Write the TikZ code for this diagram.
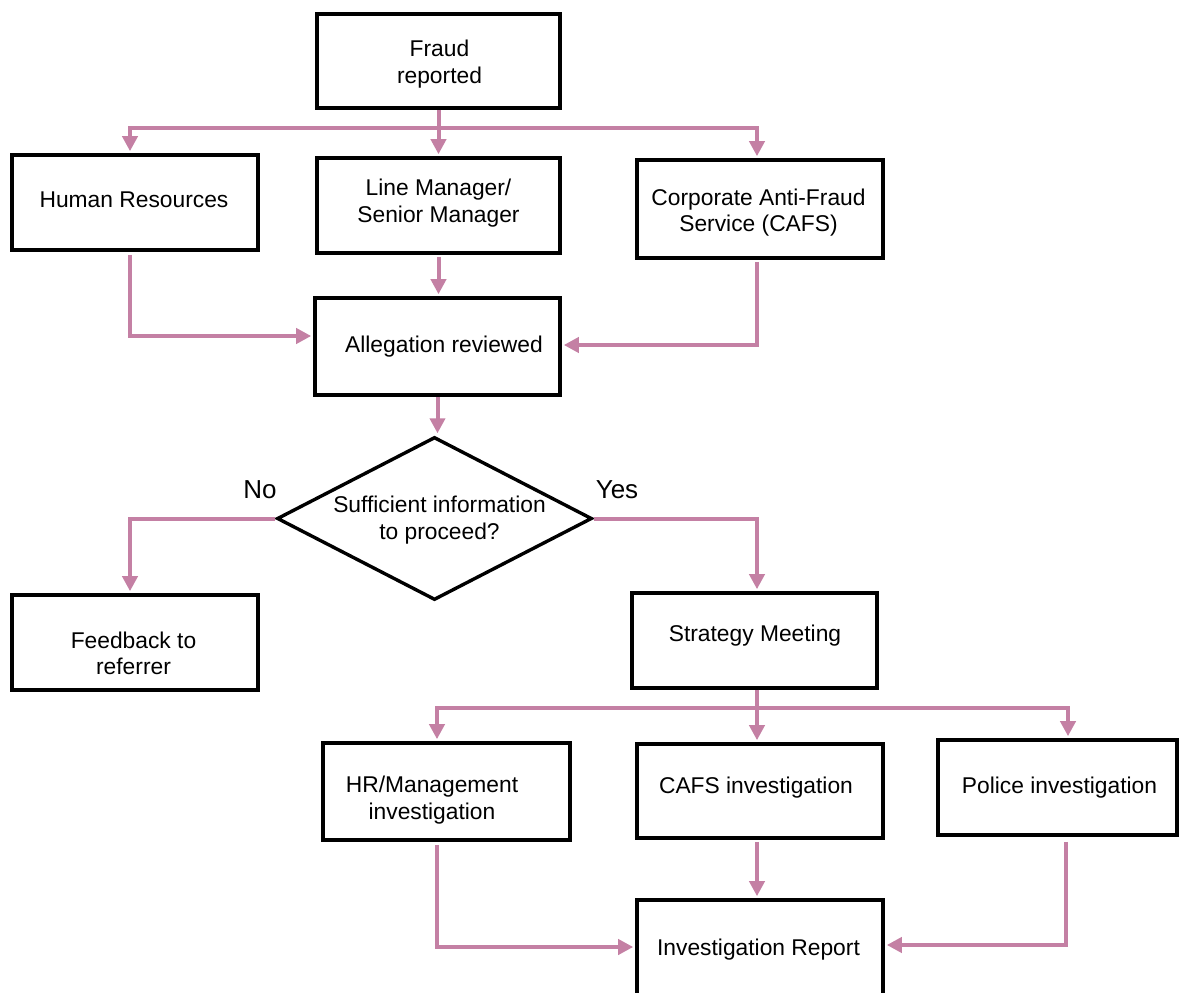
\documentclass[tikz,border=0pt]{standalone}
\usepackage{fontspec}
\setmainfont{Liberation Sans}
\usetikzlibrary{arrows.meta,shapes.geometric,calc}
\definecolor{conn}{RGB}{196,128,164}
\begin{document}
\begin{tikzpicture}[x=1pt,y=-1pt,
  box/.style={draw=black,line width=3.6pt,fill=white,inner sep=0pt,minimum width=#1},
  txt/.style={align=center,inner sep=0pt,font=\fontsize{22.8}{26.5}\selectfont},
  yn/.style={inner sep=0pt,font=\fontsize{26}{30}\selectfont},
  conn/.style={draw=conn,line width=4pt},
  arr/.style={conn,-{Triangle[width=15pt,length=15pt]},shorten >=2pt},
]
\useasboundingbox (0,0) rectangle (1179,993);
\clip (0,0) rectangle (1179,993);
\fill[white] (0,0) rectangle (1179,993);

% boxes
\node[box=243pt,minimum height=94pt] (fraud) at (438.5,61) {};
\node[box=246pt,minimum height=95pt] (hr) at (135,202.5) {};
\node[box=243pt,minimum height=95pt] (lm) at (438.5,205.5) {};
\node[box=246pt,minimum height=98pt] (cafs) at (760,209) {};
\node[box=245pt,minimum height=97pt] (alleg) at (437.5,346.5) {};
\node[draw=black,line width=3.4pt,fill=white,diamond,inner sep=0pt,minimum width=315pt,minimum height=163pt] (dia) at (434.5,518.5) {};
\node[box=246pt,minimum height=95pt] (fb) at (135,642.5) {};
\node[box=245pt,minimum height=95pt] (strat) at (754.5,640.5) {};
\node[box=247pt,minimum height=97pt] (hrm) at (446.5,791.5) {};
\node[box=246pt,minimum height=94pt] (cafsi) at (760,791) {};
\node[box=239pt,minimum height=95pt] (police) at (1057.5,787.5) {};
\node[box=246pt,minimum height=110pt] (report) at (760,955) {};

% texts
\node[txt] (fraud-t) at (439.5,64) {Fraud\\reported};
\node[txt] (hr-t) at (134,200) {Human Resources};
\node[txt] (lm-t) at (438.5,203) {Line Manager/\\Senior Manager};
\node[txt] (cafs-t) at (758.5,212.5) {Corporate Anti-Fraud\\Service (CAFS)};
\node[txt] (alleg-t) at (444,347) {Allegation reviewed};
\node[txt] (dia-t) at (439.5,520) {Sufficient information\\to proceed?};
\node[txt] (fb-t) at (133.5,653.5) {Feedback to\\referrer};
\node[txt] (strat-t) at (755,636) {Strategy Meeting};
\node[txt] (hrm-t) at (432,800) {HR/Management\\investigation};
\node[txt] (cafsi-t) at (756,788) {CAFS investigation};
\node[txt] (police-t) at (1059.5,788) {Police investigation};
\node[txt] (report-t) at (758.5,950) {Investigation Report};
\node[yn] (no) at (260,490) {No};
\node[yn] (yes) at (617,490) {Yes};

% connectors
\coordinate (b1) at (438.5,128);
\draw[arr] (fraud.south) -- (lm.north);
\draw[arr] (b1) -| ([xshift=-5pt]hr.north);
\draw[arr] (b1) -| ([xshift=-3pt]cafs.north);
\draw[arr,shorten <=3pt] ([xshift=-5pt]hr.south) |- ([yshift=10.5pt]alleg.west);
\draw[arr,shorten <=2pt] (lm.south) -- (lm.south |- alleg.north);
\draw[arr,shorten <=2pt] ([xshift=-3pt]cafs.south) |- ([yshift=1.5pt]alleg.east);
\draw[arr] (alleg.south) -- (alleg.south |- dia.north);
\draw[arr] (dia.west) -| ([xshift=-5pt]fb.north);
\draw[arr] (dia.east) -| ([xshift=2.5pt]strat.north);
\coordinate (b2) at (757,708);
\draw[arr] (strat.south -| b2) -- (cafsi.north -| b2);
\draw[arr] (b2) -| ([xshift=-9.5pt]hrm.north);
\draw[arr] (b2) -| ([xshift=10.5pt]police.north);
\draw[arr,shorten <=3pt] ([xshift=-9.5pt]hrm.south) |- ([yshift=8pt]report.west);
\draw[arr,shorten <=2pt] ([xshift=-3pt]cafsi.south) -- ([xshift=-3pt]report.north);
\draw[arr,shorten <=5pt] ([xshift=8.5pt]police.south) |- ([yshift=10pt]report.east);
\end{tikzpicture}
\end{document}
